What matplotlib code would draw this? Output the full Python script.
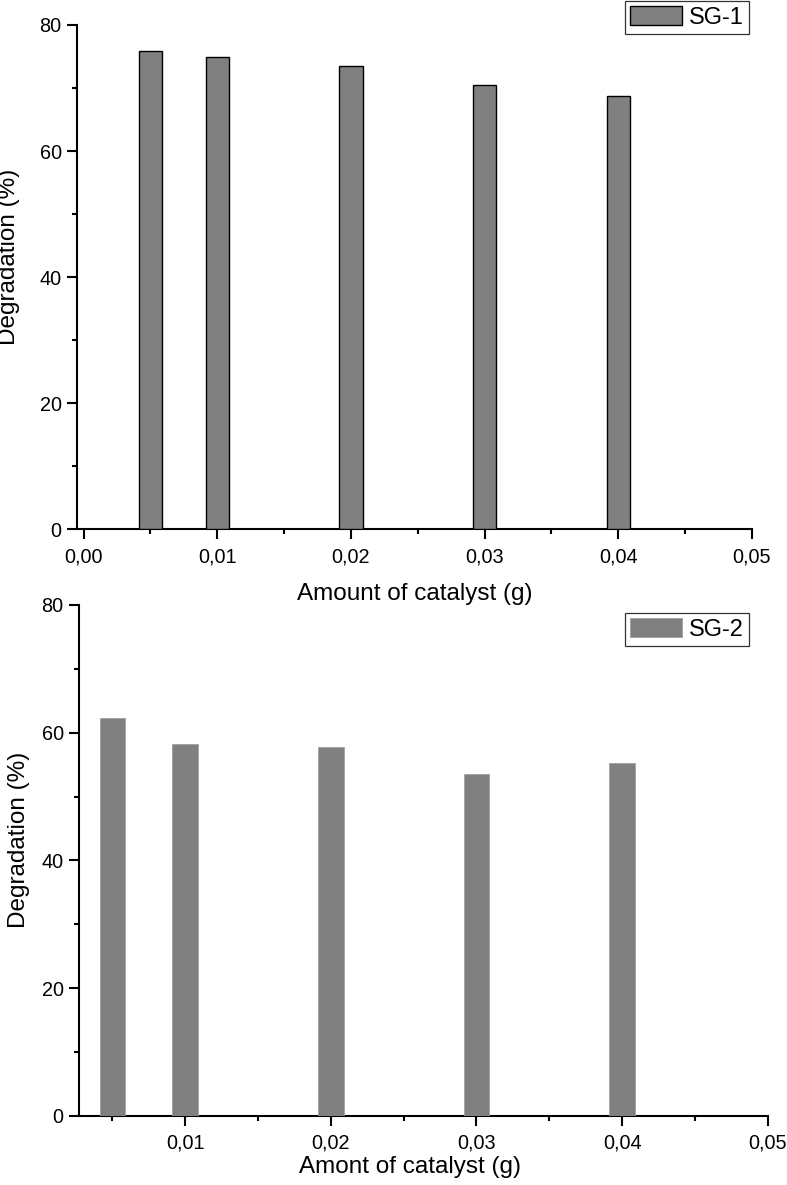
import matplotlib
matplotlib.use("Agg")
import matplotlib.pyplot as plt
from matplotlib.ticker import MultipleLocator, FuncFormatter

plt.rcParams['font.family'] = ['Liberation Sans', 'DejaVu Sans']

# Data
catalyst = [0.005, 0.01, 0.02, 0.03, 0.04]
sg1 = [75.9, 75.0, 73.5, 70.5, 68.7]
sg2 = [62.3, 58.3, 57.8, 53.5, 55.3]
xticks = [0.00, 0.01, 0.02, 0.03, 0.04, 0.05]
yticks = [0, 20, 40, 60, 80]

W, H = 787, 1185
fig = plt.figure(figsize=(W / 100, H / 100), dpi=100)

def rect(l, r, t, b):
    return [l / W, 1 - b / H, (r - l) / W, (b - t) / H]

ax1 = fig.add_axes(rect(77, 752, 25, 529.5))
ax2 = fig.add_axes(rect(79, 767.7, 605, 1115.7))
ax1.set_zorder(2)
ax1.patch.set_alpha(0)
ax2.patch.set_alpha(0)

fmt = FuncFormatter(lambda v, p: f"{v:.2f}".replace('.', ','))

def style(ax, xlim):
    ax.set_xlim(*xlim)
    ax.set_ylim(0, 80)
    for s in ['top', 'right']:
        ax.spines[s].set_visible(False)
    for s in ['left', 'bottom']:
        ax.spines[s].set_linewidth(1.5)
    ax.xaxis.set_major_locator(MultipleLocator(0.01))
    ax.xaxis.set_minor_locator(MultipleLocator(0.005))
    ax.yaxis.set_major_locator(MultipleLocator(20))
    ax.yaxis.set_minor_locator(MultipleLocator(10))
    ax.xaxis.set_major_formatter(fmt)
    ax.tick_params(which='major', length=7, width=1.5, labelsize=14.3, direction='out')
    ax.tick_params(which='minor', length=3.6, width=1.5, direction='out')
    ax.tick_params(axis='x', which='major', pad=6)
    ax.tick_params(axis='y', which='major', pad=4)

style(ax1, (-0.00049, 0.05))
style(ax2, (0.0027, 0.05))

ax1.bar(catalyst, sg1, width=0.00175, color='#808080', edgecolor='black',
        linewidth=1.0, label='SG-1', zorder=3)
ax2.bar(catalyst, sg2, width=0.00176, color='#808080', edgecolor='#a0a0a0',
        linewidth=0.6, label='SG-2', zorder=3)

ax1.set_xlabel('Amount of catalyst (g)', fontsize=17.5)
ax1.set_ylabel('Degradation (%)', fontsize=17.5)
ax2.set_xlabel('Amont of catalyst (g)', fontsize=17.5)
ax2.set_ylabel('Degradation (%)', fontsize=17.5)
ax1.xaxis.set_label_coords(0.5, -0.106)
ax1.yaxis.set_label_coords(-0.084, 0.54)
ax2.xaxis.set_label_coords(0.48, -0.079)
ax2.yaxis.set_label_coords(-0.071, 0.54)

leg_kw = dict(fontsize=17, frameon=True, fancybox=False, handlelength=2.2,
              handleheight=0.85, handletextpad=0.32, borderpad=0.22,
              borderaxespad=0, loc='upper right')
l1 = ax1.legend(bbox_to_anchor=(749.3 / W, 1 - 1 / H),
                bbox_transform=fig.transFigure, **leg_kw)
l2 = ax2.legend(bbox_to_anchor=(749.3 / W, 1 - 613.3 / H),
                bbox_transform=fig.transFigure, **leg_kw)
for l in (l1, l2):
    l.get_frame().set_edgecolor('black')
    l.get_frame().set_linewidth(0.9)

fig.savefig('out.png', dpi=100, facecolor='white')
